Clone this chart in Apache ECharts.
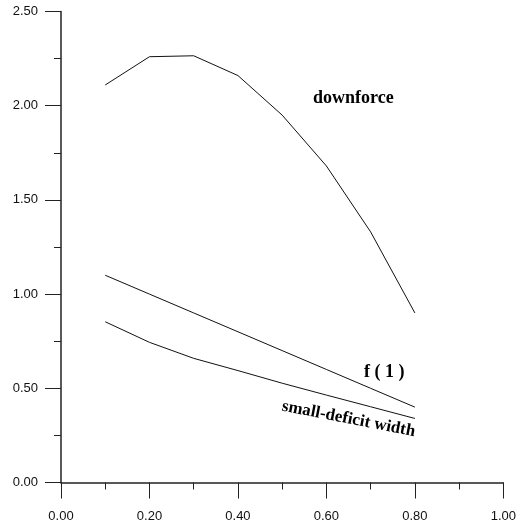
<!DOCTYPE html>
<html>
<head>
<meta charset="utf-8">
<script src="https://cdn.jsdelivr.net/npm/echarts@6/dist/echarts.min.js"></script>
<style>
html,body{margin:0;padding:0;background:#fff;}
#c{width:519px;height:526px;}
</style>
</head>
<body>
<div id="c"></div>
<script>
var xValues = [0.1, 0.2, 0.3, 0.4, 0.5, 0.6, 0.7, 0.8];
var downforce = [2.11, 2.26, 2.265, 2.16, 1.95, 1.68, 1.33, 0.90];
var f1 = [1.10, 1.00, 0.90, 0.80, 0.70, 0.60, 0.50, 0.40];
var smallDeficitWidth = [0.853, 0.744, 0.659, 0.594, 0.527, 0.464, 0.402, 0.34];

var annotations = [
  {text: 'downforce', x: 0.661, y: 2.04, rotate: 0, size: 18},
  {text: 'f ( 1 )', x: 0.731, y: 0.586, rotate: 0, size: 18},
  {text: 'small-deficit width', x: 0.650, y: 0.337, rotate: -11, size: 17}
];

function pairs(ys){ return xValues.map(function(x,i){ return [x, ys[i]]; }); }

var chart = echarts.init(document.getElementById('c'), null, {renderer:'canvas'});
var axisCommon = {
  axisLine: {show: true, lineStyle: {color: '#222', width: 1.5}},
  axisTick: {show: true, inside: false, length: 16, lineStyle: {color: '#222', width: 1}},
  minorTick: {show: true, splitNumber: 2, length: 7, lineStyle: {color: '#222', width: 1}},
  splitLine: {show: false},
  axisLabel: {color: '#111', fontFamily: 'Liberation Sans, Arial', fontSize: 13,
    formatter: function(v){ return v.toFixed(2); }}
};
var lineSeries = function(name, ys){
  return {name: name, type: 'line', data: pairs(ys), showSymbol: false, symbol: 'none',
    lineStyle: {color: '#111', width: 1}, silent: true, animation: false};
};
chart.setOption({
  animation: false,
  backgroundColor: '#fff',
  grid: {left: 61, right: 11, top: 11.5, bottom: 43.5, containLabel: false},
  xAxis: Object.assign({}, axisCommon, {type: 'value', min: 0, max: 1, interval: 0.2,
    axisLabel: Object.assign({}, axisCommon.axisLabel, {margin: 27})}),
  yAxis: Object.assign({}, axisCommon, {type: 'value', min: 0, max: 2.5, interval: 0.5,
    axisLabel: Object.assign({}, axisCommon.axisLabel, {margin: 23})}),
  series: [
    lineSeries('downforce', downforce),
    lineSeries('f(1)', f1),
    lineSeries('small-deficit width', smallDeficitWidth)
  ]
});
var g = annotations.map(function(a){
  var p = chart.convertToPixel({gridIndex: 0}, [a.x, a.y]);
  return {type: 'text', x: p[0], y: p[1], rotation: a.rotate * Math.PI / 180,
    style: {text: a.text, fill: '#000', font: 'bold ' + a.size + 'px "Liberation Serif", serif',
      textAlign: 'center', textVerticalAlign: 'middle'}};
});
chart.setOption({graphic: g});
</script>
</body>
</html>
